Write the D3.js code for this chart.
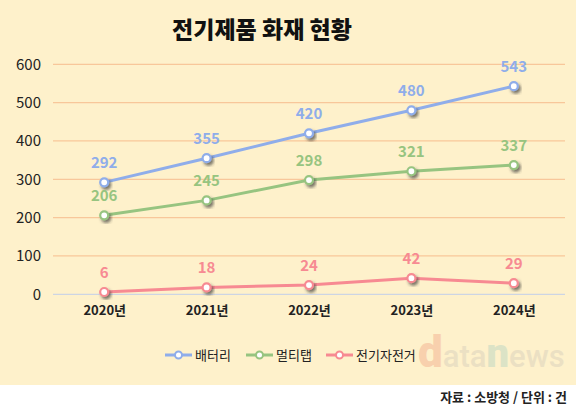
<!DOCTYPE html>
<html>
<head>
    <meta charset="utf-8"/>
    <style>
        body{ margin:0; background:#fff; }
        text{ font-family: "Noto Sans CJK KR", sans-serif; }
        #y-axis text{ font-size:15px; fill:#222; }
        #x-axis text{ font-size:13px; font-weight:700; fill:#222; }
        .grid line{ stroke:#f8c79a; stroke-width:1.2; }
        .series path{ fill:none; stroke-width:3; }
        .val{ font-size:15px; font-weight:700; text-anchor:middle; }
        .legend text{ font-size:13px; fill:#222; }
    </style>
</head>
<body>
<svg id="graph" width="580" height="412"></svg>

<script src="https://d3js.org/d3.v7.min.js"></script>
<script>
    // data
    const years = ['2020년', '2021년', '2022년', '2023년', '2024년'];
    const battery = [292, 355, 420, 480, 543];
    const multitap = [206, 245, 298, 321, 337];
    const ebike = [6, 18, 24, 42, 29];
    const seriesNames = ['배터리', '멀티탭', '전기자전거'];
    const yTicks = [0, 100, 200, 300, 400, 500, 600];

    const colors = ['#8fadea', '#97c480', '#f78a92'];
    const seriesValues = [battery, multitap, ebike];

    var svg = d3.select('#graph');

    // cream panel
    svg.append('rect')
        .attr('x', 0).attr('y', 0)
        .attr('width', 576).attr('height', 385)
        .attr('fill', '#fef1cb');

    // shadow for markers
    var defs = svg.append('defs');
    defs.append('filter')
        .attr('id', 'shadow')
        .attr('x', '-50%').attr('y', '-50%')
        .attr('width', '200%').attr('height', '200%')
        .append('feDropShadow')
        .attr('dx', 2).attr('dy', 2.5)
        .attr('stdDeviation', 1.4)
        .attr('flood-color', '#333')
        .attr('flood-opacity', 0.65);

    // title
    svg.append('text')
        .attr('x', 262).attr('y', 38)
        .attr('text-anchor', 'middle')
        .style('font-size', '23px')
        .style('font-weight', 900)
        .style('fill', '#111')
        .text('전기제품 화재 현황');

    var left = 53, right = 565;
    var x = d3.scalePoint().domain(years).range([left, right]).padding(0.5);
    var y = d3.scaleLinear().domain([0, 600]).range([294.3, 64.3]);

    // grid
    var grid = svg.append('g').attr('class', 'grid');
    grid.selectAll('line')
        .data(yTicks)
        .enter().append('line')
        .attr('x1', left).attr('x2', right)
        .attr('y1', d => y(d)).attr('y2', d => y(d))
        .style('stroke', d => d === 0 ? '#cdd5e4' : null);

    // y axis labels
    svg.append('g')
        .attr('id', 'y-axis')
        .attr('transform', 'translate(41,0)')
        .call(d3.axisLeft(y).tickValues(yTicks).tickSize(0).tickPadding(0))
        .call(g => g.select('.domain').remove())
        .selectAll('text')
        .style('font-family', '"Noto Sans CJK KR", sans-serif');

    // x axis labels
    svg.append('g')
        .attr('id', 'x-axis')
        .attr('transform', 'translate(0,300)')
        .call(d3.axisBottom(x).tickSize(0).tickPadding(6))
        .call(g => g.select('.domain').remove())
        .selectAll('text')
        .style('font-family', '"Noto Sans CJK KR", sans-serif');

    // series
    var line = d3.line()
        .x((d, i) => x(years[i]))
        .y(d => y(d));

    seriesValues.forEach(function(vals, s){
        var g = svg.append('g').attr('class', 'series');
        g.append('path')
            .attr('d', line(vals))
            .attr('stroke', colors[s]);
        g.selectAll('circle')
            .data(vals)
            .enter().append('circle')
            .attr('cx', (d, i) => x(years[i]))
            .attr('cy', d => y(d))
            .attr('r', 4)
            .attr('fill', '#fff')
            .attr('stroke', colors[s])
            .attr('stroke-width', 2.2)
            .attr('filter', 'url(#shadow)');
        g.selectAll('.val')
            .data(vals)
            .enter().append('text')
            .attr('class', 'val')
            .attr('x', (d, i) => x(years[i]))
            .attr('y', d => y(d) - 14)
            .style('fill', colors[s])
            .text(d => d);
    });

    // legend
    var legendX = [165, 246, 326];
    var legend = svg.append('g').attr('class', 'legend');
    seriesNames.forEach(function(name, s){
        var lg = legend.append('g').attr('transform', 'translate(' + legendX[s] + ',355)');
        lg.append('line')
            .attr('x1', 0).attr('x2', 27)
            .attr('y1', 0).attr('y2', 0)
            .attr('stroke', colors[s]).attr('stroke-width', 3);
        lg.append('circle')
            .attr('cx', 13.5).attr('cy', 0).attr('r', 3.5)
            .attr('fill', '#fff')
            .attr('stroke', colors[s]).attr('stroke-width', 2);
        lg.append('text')
            .attr('x', 30).attr('y', 5)
            .text(name);
    });

    // watermark
    var wm = svg.append('text')
        .attr('x', 418).attr('y', 367)
        .style('font-family', 'Roboto, sans-serif')
        .style('font-size', '31px')
        .style('font-weight', 500);
    wm.append('tspan').text('d').style('fill', '#f8d0ad').style('font-size', '44px').style('font-weight', 900);
    wm.append('tspan').text('ata').style('fill', '#ebe0c3');
    wm.append('tspan').text('n').style('fill', '#dce3c6').style('font-size', '40px').style('font-weight', 900);
    wm.append('tspan').text('ews').style('fill', '#ebe0c3');

    // source
    svg.append('text')
        .attr('x', 567).attr('y', 402)
        .attr('text-anchor', 'end')
        .style('font-size', '13px')
        .style('font-weight', 700)
        .style('fill', '#222')
        .text('자료 : 소방청 / 단위 : 건');
</script>
</body>
</html>
